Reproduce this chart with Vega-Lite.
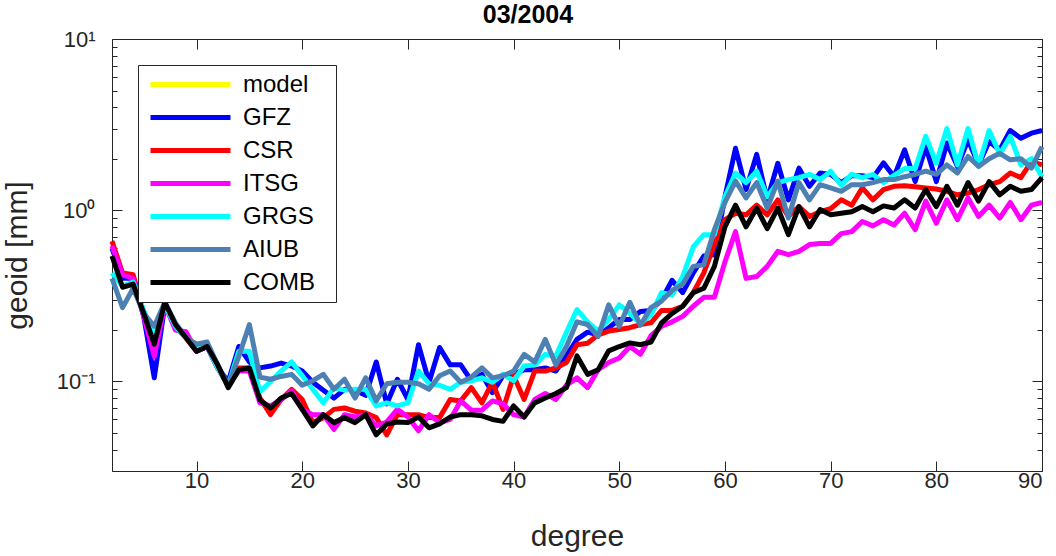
{
"$schema":"https://vega.github.io/schema/vega-lite/v6.json",
"width":930,"height":432,
"autosize":{"type":"none"},
"padding":{"left":112,"top":39,"right":14,"bottom":85},
"background":"white",
"title":{"text":"03/2004","fontSize":25,"fontWeight":"bold","font":"Liberation Sans","color":"#000000","offset":0,"dx":-49},
"config":{"view":{"stroke":null},"font":"Liberation Sans",
 "axis":{"domainColor":"#262626","tickColor":"#262626","labelColor":"#262626","titleColor":"#262626","grid":false,"labelFont":"Liberation Sans","titleFont":"Liberation Sans","labelFontSize":22,"titleFontSize":30,"titleFontWeight":"normal","domainWidth":1,"tickWidth":1}},
"data":{"values":[
{"d":2,"s":"GFZ","v":0.6},{"d":3,"s":"GFZ","v":0.4},{"d":4,"s":"GFZ","v":0.4},{"d":5,"s":"GFZ","v":0.24},{"d":6,"s":"GFZ","v":0.105},{"d":7,"s":"GFZ","v":0.28},{"d":8,"s":"GFZ","v":0.21},{"d":9,"s":"GFZ","v":0.18},{"d":10,"s":"GFZ","v":0.15},{"d":11,"s":"GFZ","v":0.16},
{"d":12,"s":"GFZ","v":0.12},{"d":13,"s":"GFZ","v":0.1},{"d":14,"s":"GFZ","v":0.16},{"d":15,"s":"GFZ","v":0.13},{"d":16,"s":"GFZ","v":0.12},{"d":17,"s":"GFZ","v":0.123},{"d":18,"s":"GFZ","v":0.128},{"d":19,"s":"GFZ","v":0.123},{"d":20,"s":"GFZ","v":0.115},{"d":21,"s":"GFZ","v":0.099},
{"d":22,"s":"GFZ","v":0.089},{"d":23,"s":"GFZ","v":0.08},{"d":24,"s":"GFZ","v":0.09},{"d":25,"s":"GFZ","v":0.089},{"d":26,"s":"GFZ","v":0.083},{"d":27,"s":"GFZ","v":0.13},{"d":28,"s":"GFZ","v":0.074},{"d":29,"s":"GFZ","v":0.103},{"d":30,"s":"GFZ","v":0.0785},{"d":31,"s":"GFZ","v":0.164},
{"d":32,"s":"GFZ","v":0.099},{"d":33,"s":"GFZ","v":0.158},{"d":34,"s":"GFZ","v":0.125},{"d":35,"s":"GFZ","v":0.125},{"d":36,"s":"GFZ","v":0.101},{"d":37,"s":"GFZ","v":0.11},{"d":38,"s":"GFZ","v":0.086},{"d":39,"s":"GFZ","v":0.108},{"d":40,"s":"GFZ","v":0.11},{"d":41,"s":"GFZ","v":0.117},
{"d":42,"s":"GFZ","v":0.117},{"d":43,"s":"GFZ","v":0.12},{"d":44,"s":"GFZ","v":0.115},{"d":45,"s":"GFZ","v":0.141},{"d":46,"s":"GFZ","v":0.176},{"d":47,"s":"GFZ","v":0.194},{"d":48,"s":"GFZ","v":0.187},{"d":49,"s":"GFZ","v":0.206},{"d":50,"s":"GFZ","v":0.23},{"d":51,"s":"GFZ","v":0.23},
{"d":52,"s":"GFZ","v":0.256},{"d":53,"s":"GFZ","v":0.26},{"d":54,"s":"GFZ","v":0.3},{"d":55,"s":"GFZ","v":0.39},{"d":56,"s":"GFZ","v":0.33},{"d":57,"s":"GFZ","v":0.43},{"d":58,"s":"GFZ","v":0.54},{"d":59,"s":"GFZ","v":0.55},{"d":60,"s":"GFZ","v":1.2},{"d":61,"s":"GFZ","v":2.3},
{"d":62,"s":"GFZ","v":1.32},{"d":63,"s":"GFZ","v":2.12},{"d":64,"s":"GFZ","v":1.15},{"d":65,"s":"GFZ","v":1.88},{"d":66,"s":"GFZ","v":1.15},{"d":67,"s":"GFZ","v":1.76},{"d":68,"s":"GFZ","v":1.38},{"d":69,"s":"GFZ","v":1.65},{"d":70,"s":"GFZ","v":1.62},{"d":71,"s":"GFZ","v":1.45},
{"d":72,"s":"GFZ","v":1.59},{"d":73,"s":"GFZ","v":1.59},{"d":74,"s":"GFZ","v":1.55},{"d":75,"s":"GFZ","v":1.89},{"d":76,"s":"GFZ","v":1.57},{"d":77,"s":"GFZ","v":2.25},{"d":78,"s":"GFZ","v":1.47},{"d":79,"s":"GFZ","v":2.35},{"d":80,"s":"GFZ","v":1.47},{"d":81,"s":"GFZ","v":2.47},
{"d":82,"s":"GFZ","v":1.8},{"d":83,"s":"GFZ","v":2.58},{"d":84,"s":"GFZ","v":1.84},{"d":85,"s":"GFZ","v":2.52},{"d":86,"s":"GFZ","v":2.25},{"d":87,"s":"GFZ","v":2.92},{"d":88,"s":"GFZ","v":2.63},{"d":89,"s":"GFZ","v":2.82},{"d":90,"s":"GFZ","v":2.92},
{"d":2,"s":"CSR","v":0.66},{"d":3,"s":"CSR","v":0.43},{"d":4,"s":"CSR","v":0.42},{"d":5,"s":"CSR","v":0.25},{"d":6,"s":"CSR","v":0.15},{"d":7,"s":"CSR","v":0.28},{"d":8,"s":"CSR","v":0.21},{"d":9,"s":"CSR","v":0.18},{"d":10,"s":"CSR","v":0.15},{"d":11,"s":"CSR","v":0.16},
{"d":12,"s":"CSR","v":0.12},{"d":13,"s":"CSR","v":0.095},{"d":14,"s":"CSR","v":0.12},{"d":15,"s":"CSR","v":0.12},{"d":16,"s":"CSR","v":0.08},{"d":17,"s":"CSR","v":0.064},{"d":18,"s":"CSR","v":0.0785},{"d":19,"s":"CSR","v":0.09},{"d":20,"s":"CSR","v":0.0785},{"d":21,"s":"CSR","v":0.0575},
{"d":22,"s":"CSR","v":0.0615},{"d":23,"s":"CSR","v":0.0687},{"d":24,"s":"CSR","v":0.07},{"d":25,"s":"CSR","v":0.067},{"d":26,"s":"CSR","v":0.0655},{"d":27,"s":"CSR","v":0.0615},{"d":28,"s":"CSR","v":0.0488},{"d":29,"s":"CSR","v":0.064},{"d":30,"s":"CSR","v":0.064},{"d":31,"s":"CSR","v":0.064},
{"d":32,"s":"CSR","v":0.0615},{"d":33,"s":"CSR","v":0.0615},{"d":34,"s":"CSR","v":0.0785},{"d":35,"s":"CSR","v":0.077},{"d":36,"s":"CSR","v":0.092},{"d":37,"s":"CSR","v":0.075},{"d":38,"s":"CSR","v":0.099},{"d":39,"s":"CSR","v":0.0687},{"d":40,"s":"CSR","v":0.108},{"d":41,"s":"CSR","v":0.0785},
{"d":42,"s":"CSR","v":0.115},{"d":43,"s":"CSR","v":0.115},{"d":44,"s":"CSR","v":0.12},{"d":45,"s":"CSR","v":0.129},{"d":46,"s":"CSR","v":0.164},{"d":47,"s":"CSR","v":0.167},{"d":48,"s":"CSR","v":0.187},{"d":49,"s":"CSR","v":0.197},{"d":50,"s":"CSR","v":0.201},{"d":51,"s":"CSR","v":0.206},
{"d":52,"s":"CSR","v":0.215},{"d":53,"s":"CSR","v":0.22},{"d":54,"s":"CSR","v":0.26},{"d":55,"s":"CSR","v":0.26},{"d":56,"s":"CSR","v":0.275},{"d":57,"s":"CSR","v":0.33},{"d":58,"s":"CSR","v":0.43},{"d":59,"s":"CSR","v":0.63},{"d":60,"s":"CSR","v":0.88},{"d":61,"s":"CSR","v":0.96},
{"d":62,"s":"CSR","v":0.94},{"d":63,"s":"CSR","v":1.07},{"d":64,"s":"CSR","v":0.94},{"d":65,"s":"CSR","v":1.15},{"d":66,"s":"CSR","v":0.92},{"d":67,"s":"CSR","v":1.05},{"d":68,"s":"CSR","v":0.92},{"d":69,"s":"CSR","v":0.98},{"d":70,"s":"CSR","v":1.02},{"d":71,"s":"CSR","v":1.15},
{"d":72,"s":"CSR","v":1.07},{"d":73,"s":"CSR","v":1.35},{"d":74,"s":"CSR","v":1.15},{"d":75,"s":"CSR","v":1.32},{"d":76,"s":"CSR","v":1.38},{"d":77,"s":"CSR","v":1.39},{"d":78,"s":"CSR","v":1.37},{"d":79,"s":"CSR","v":1.35},{"d":80,"s":"CSR","v":1.33},{"d":81,"s":"CSR","v":1.29},
{"d":82,"s":"CSR","v":1.23},{"d":83,"s":"CSR","v":1.26},{"d":84,"s":"CSR","v":1.32},{"d":85,"s":"CSR","v":1.41},{"d":86,"s":"CSR","v":1.47},{"d":87,"s":"CSR","v":1.65},{"d":88,"s":"CSR","v":1.55},{"d":89,"s":"CSR","v":1.92},{"d":90,"s":"CSR","v":1.84},
{"d":2,"s":"ITSG","v":0.62},{"d":3,"s":"ITSG","v":0.42},{"d":4,"s":"ITSG","v":0.4},{"d":5,"s":"ITSG","v":0.24},{"d":6,"s":"ITSG","v":0.14},{"d":7,"s":"ITSG","v":0.28},{"d":8,"s":"ITSG","v":0.2},{"d":9,"s":"ITSG","v":0.195},{"d":10,"s":"ITSG","v":0.15},{"d":11,"s":"ITSG","v":0.16},
{"d":12,"s":"ITSG","v":0.12},{"d":13,"s":"ITSG","v":0.095},{"d":14,"s":"ITSG","v":0.115},{"d":15,"s":"ITSG","v":0.115},{"d":16,"s":"ITSG","v":0.075},{"d":17,"s":"ITSG","v":0.072},{"d":18,"s":"ITSG","v":0.078},{"d":19,"s":"ITSG","v":0.088},{"d":20,"s":"ITSG","v":0.0687},{"d":21,"s":"ITSG","v":0.064},
{"d":22,"s":"ITSG","v":0.064},{"d":23,"s":"ITSG","v":0.0525},{"d":24,"s":"ITSG","v":0.064},{"d":25,"s":"ITSG","v":0.062},{"d":26,"s":"ITSG","v":0.064},{"d":27,"s":"ITSG","v":0.055},{"d":28,"s":"ITSG","v":0.058},{"d":29,"s":"ITSG","v":0.0687},{"d":30,"s":"ITSG","v":0.062},{"d":31,"s":"ITSG","v":0.0515},
{"d":32,"s":"ITSG","v":0.064},{"d":33,"s":"ITSG","v":0.0575},{"d":34,"s":"ITSG","v":0.06},{"d":35,"s":"ITSG","v":0.077},{"d":36,"s":"ITSG","v":0.068},{"d":37,"s":"ITSG","v":0.068},{"d":38,"s":"ITSG","v":0.077},{"d":39,"s":"ITSG","v":0.074},{"d":40,"s":"ITSG","v":0.064},{"d":41,"s":"ITSG","v":0.062},
{"d":42,"s":"ITSG","v":0.0785},{"d":43,"s":"ITSG","v":0.085},{"d":44,"s":"ITSG","v":0.0785},{"d":45,"s":"ITSG","v":0.095},{"d":46,"s":"ITSG","v":0.105},{"d":47,"s":"ITSG","v":0.092},{"d":48,"s":"ITSG","v":0.117},{"d":49,"s":"ITSG","v":0.129},{"d":50,"s":"ITSG","v":0.137},{"d":51,"s":"ITSG","v":0.16},
{"d":52,"s":"ITSG","v":0.144},{"d":53,"s":"ITSG","v":0.185},{"d":54,"s":"ITSG","v":0.21},{"d":55,"s":"ITSG","v":0.223},{"d":56,"s":"ITSG","v":0.24},{"d":57,"s":"ITSG","v":0.275},{"d":58,"s":"ITSG","v":0.31},{"d":59,"s":"ITSG","v":0.31},{"d":60,"s":"ITSG","v":0.5},{"d":61,"s":"ITSG","v":0.75},
{"d":62,"s":"ITSG","v":0.4},{"d":63,"s":"ITSG","v":0.41},{"d":64,"s":"ITSG","v":0.47},{"d":65,"s":"ITSG","v":0.575},{"d":66,"s":"ITSG","v":0.55},{"d":67,"s":"ITSG","v":0.575},{"d":68,"s":"ITSG","v":0.63},{"d":69,"s":"ITSG","v":0.64},{"d":70,"s":"ITSG","v":0.64},{"d":71,"s":"ITSG","v":0.73},
{"d":72,"s":"ITSG","v":0.75},{"d":73,"s":"ITSG","v":0.86},{"d":74,"s":"ITSG","v":0.81},{"d":75,"s":"ITSG","v":0.88},{"d":76,"s":"ITSG","v":0.82},{"d":77,"s":"ITSG","v":0.96},{"d":78,"s":"ITSG","v":0.77},{"d":79,"s":"ITSG","v":1.13},{"d":80,"s":"ITSG","v":0.84},{"d":81,"s":"ITSG","v":1.15},
{"d":82,"s":"ITSG","v":0.88},{"d":83,"s":"ITSG","v":1.18},{"d":84,"s":"ITSG","v":0.92},{"d":85,"s":"ITSG","v":1.07},{"d":86,"s":"ITSG","v":0.9},{"d":87,"s":"ITSG","v":1.11},{"d":88,"s":"ITSG","v":0.88},{"d":89,"s":"ITSG","v":1.07},{"d":90,"s":"ITSG","v":1.11},
{"d":2,"s":"GRGS","v":0.43},{"d":3,"s":"GRGS","v":0.36},{"d":4,"s":"GRGS","v":0.38},{"d":5,"s":"GRGS","v":0.26},{"d":6,"s":"GRGS","v":0.18},{"d":7,"s":"GRGS","v":0.28},{"d":8,"s":"GRGS","v":0.21},{"d":9,"s":"GRGS","v":0.18},{"d":10,"s":"GRGS","v":0.155},{"d":11,"s":"GRGS","v":0.16},
{"d":12,"s":"GRGS","v":0.12},{"d":13,"s":"GRGS","v":0.095},{"d":14,"s":"GRGS","v":0.15},{"d":15,"s":"GRGS","v":0.15},{"d":16,"s":"GRGS","v":0.087},{"d":17,"s":"GRGS","v":0.1},{"d":18,"s":"GRGS","v":0.115},{"d":19,"s":"GRGS","v":0.13},{"d":20,"s":"GRGS","v":0.108},{"d":21,"s":"GRGS","v":0.09},
{"d":22,"s":"GRGS","v":0.075},{"d":23,"s":"GRGS","v":0.092},{"d":24,"s":"GRGS","v":0.089},{"d":25,"s":"GRGS","v":0.09},{"d":26,"s":"GRGS","v":0.09},{"d":27,"s":"GRGS","v":0.072},{"d":28,"s":"GRGS","v":0.075},{"d":29,"s":"GRGS","v":0.072},{"d":30,"s":"GRGS","v":0.075},{"d":31,"s":"GRGS","v":0.115},
{"d":32,"s":"GRGS","v":0.097},{"d":33,"s":"GRGS","v":0.095},{"d":34,"s":"GRGS","v":0.09},{"d":35,"s":"GRGS","v":0.099},{"d":36,"s":"GRGS","v":0.101},{"d":37,"s":"GRGS","v":0.105},{"d":38,"s":"GRGS","v":0.099},{"d":39,"s":"GRGS","v":0.11},{"d":40,"s":"GRGS","v":0.101},{"d":41,"s":"GRGS","v":0.123},
{"d":42,"s":"GRGS","v":0.125},{"d":43,"s":"GRGS","v":0.144},{"d":44,"s":"GRGS","v":0.141},{"d":45,"s":"GRGS","v":0.194},{"d":46,"s":"GRGS","v":0.263},{"d":47,"s":"GRGS","v":0.223},{"d":48,"s":"GRGS","v":0.197},{"d":49,"s":"GRGS","v":0.23},{"d":50,"s":"GRGS","v":0.28},{"d":51,"s":"GRGS","v":0.25},
{"d":52,"s":"GRGS","v":0.218},{"d":53,"s":"GRGS","v":0.245},{"d":54,"s":"GRGS","v":0.33},{"d":55,"s":"GRGS","v":0.32},{"d":56,"s":"GRGS","v":0.41},{"d":57,"s":"GRGS","v":0.61},{"d":58,"s":"GRGS","v":0.72},{"d":59,"s":"GRGS","v":0.72},{"d":60,"s":"GRGS","v":1.2},{"d":61,"s":"GRGS","v":1.65},
{"d":62,"s":"GRGS","v":1.45},{"d":63,"s":"GRGS","v":1.69},{"d":64,"s":"GRGS","v":1.2},{"d":65,"s":"GRGS","v":1.45},{"d":66,"s":"GRGS","v":1.51},{"d":67,"s":"GRGS","v":1.55},{"d":68,"s":"GRGS","v":1.62},{"d":69,"s":"GRGS","v":1.51},{"d":70,"s":"GRGS","v":1.69},{"d":71,"s":"GRGS","v":1.4},
{"d":72,"s":"GRGS","v":1.62},{"d":73,"s":"GRGS","v":1.55},{"d":74,"s":"GRGS","v":1.62},{"d":75,"s":"GRGS","v":1.45},{"d":76,"s":"GRGS","v":1.6},{"d":77,"s":"GRGS","v":1.75},{"d":78,"s":"GRGS","v":1.75},{"d":79,"s":"GRGS","v":2.7},{"d":80,"s":"GRGS","v":1.88},{"d":81,"s":"GRGS","v":3.0},
{"d":82,"s":"GRGS","v":1.84},{"d":83,"s":"GRGS","v":3.0},{"d":84,"s":"GRGS","v":1.82},{"d":85,"s":"GRGS","v":2.92},{"d":86,"s":"GRGS","v":2.12},{"d":87,"s":"GRGS","v":2.7},{"d":88,"s":"GRGS","v":1.84},{"d":89,"s":"GRGS","v":2.0},{"d":90,"s":"GRGS","v":1.57},
{"d":2,"s":"AIUB","v":0.4},{"d":3,"s":"AIUB","v":0.27},{"d":4,"s":"AIUB","v":0.35},{"d":5,"s":"AIUB","v":0.25},{"d":6,"s":"AIUB","v":0.21},{"d":7,"s":"AIUB","v":0.29},{"d":8,"s":"AIUB","v":0.22},{"d":9,"s":"AIUB","v":0.18},{"d":10,"s":"AIUB","v":0.165},{"d":11,"s":"AIUB","v":0.17},
{"d":12,"s":"AIUB","v":0.125},{"d":13,"s":"AIUB","v":0.095},{"d":14,"s":"AIUB","v":0.14},{"d":15,"s":"AIUB","v":0.215},{"d":16,"s":"AIUB","v":0.106},{"d":17,"s":"AIUB","v":0.103},{"d":18,"s":"AIUB","v":0.107},{"d":19,"s":"AIUB","v":0.11},{"d":20,"s":"AIUB","v":0.095},{"d":21,"s":"AIUB","v":0.101},
{"d":22,"s":"AIUB","v":0.11},{"d":23,"s":"AIUB","v":0.09},{"d":24,"s":"AIUB","v":0.103},{"d":25,"s":"AIUB","v":0.08},{"d":26,"s":"AIUB","v":0.105},{"d":27,"s":"AIUB","v":0.077},{"d":28,"s":"AIUB","v":0.097},{"d":29,"s":"AIUB","v":0.099},{"d":30,"s":"AIUB","v":0.099},{"d":31,"s":"AIUB","v":0.097},
{"d":32,"s":"AIUB","v":0.09},{"d":33,"s":"AIUB","v":0.108},{"d":34,"s":"AIUB","v":0.115},{"d":35,"s":"AIUB","v":0.099},{"d":36,"s":"AIUB","v":0.106},{"d":37,"s":"AIUB","v":0.12},{"d":38,"s":"AIUB","v":0.105},{"d":39,"s":"AIUB","v":0.108},{"d":40,"s":"AIUB","v":0.115},{"d":41,"s":"AIUB","v":0.144},
{"d":42,"s":"AIUB","v":0.13},{"d":43,"s":"AIUB","v":0.176},{"d":44,"s":"AIUB","v":0.125},{"d":45,"s":"AIUB","v":0.16},{"d":46,"s":"AIUB","v":0.223},{"d":47,"s":"AIUB","v":0.215},{"d":48,"s":"AIUB","v":0.183},{"d":49,"s":"AIUB","v":0.28},{"d":50,"s":"AIUB","v":0.21},{"d":51,"s":"AIUB","v":0.29},
{"d":52,"s":"AIUB","v":0.213},{"d":53,"s":"AIUB","v":0.27},{"d":54,"s":"AIUB","v":0.295},{"d":55,"s":"AIUB","v":0.34},{"d":56,"s":"AIUB","v":0.37},{"d":57,"s":"AIUB","v":0.47},{"d":58,"s":"AIUB","v":0.48},{"d":59,"s":"AIUB","v":0.77},{"d":60,"s":"AIUB","v":1.11},{"d":61,"s":"AIUB","v":1.48},
{"d":62,"s":"AIUB","v":1.18},{"d":63,"s":"AIUB","v":1.45},{"d":64,"s":"AIUB","v":1.03},{"d":65,"s":"AIUB","v":1.48},{"d":66,"s":"AIUB","v":0.9},{"d":67,"s":"AIUB","v":1.45},{"d":68,"s":"AIUB","v":1.15},{"d":69,"s":"AIUB","v":1.41},{"d":70,"s":"AIUB","v":1.35},{"d":71,"s":"AIUB","v":1.29},
{"d":72,"s":"AIUB","v":1.41},{"d":73,"s":"AIUB","v":1.41},{"d":74,"s":"AIUB","v":1.45},{"d":75,"s":"AIUB","v":1.51},{"d":76,"s":"AIUB","v":1.51},{"d":77,"s":"AIUB","v":1.57},{"d":78,"s":"AIUB","v":1.62},{"d":79,"s":"AIUB","v":1.69},{"d":80,"s":"AIUB","v":1.62},{"d":81,"s":"AIUB","v":1.84},
{"d":82,"s":"AIUB","v":1.65},{"d":83,"s":"AIUB","v":2.06},{"d":84,"s":"AIUB","v":1.8},{"d":85,"s":"AIUB","v":2.0},{"d":86,"s":"AIUB","v":2.15},{"d":87,"s":"AIUB","v":1.97},{"d":88,"s":"AIUB","v":2.0},{"d":89,"s":"AIUB","v":1.76},{"d":90,"s":"AIUB","v":2.35},
{"d":2,"s":"COMB","v":0.54},{"d":3,"s":"COMB","v":0.355},{"d":4,"s":"COMB","v":0.37},{"d":5,"s":"COMB","v":0.25},{"d":6,"s":"COMB","v":0.165},{"d":7,"s":"COMB","v":0.29},{"d":8,"s":"COMB","v":0.215},{"d":9,"s":"COMB","v":0.18},{"d":10,"s":"COMB","v":0.15},{"d":11,"s":"COMB","v":0.16},
{"d":12,"s":"COMB","v":0.125},{"d":13,"s":"COMB","v":0.092},{"d":14,"s":"COMB","v":0.117},{"d":15,"s":"COMB","v":0.12},{"d":16,"s":"COMB","v":0.078},{"d":17,"s":"COMB","v":0.07},{"d":18,"s":"COMB","v":0.08},{"d":19,"s":"COMB","v":0.085},{"d":20,"s":"COMB","v":0.0687},{"d":21,"s":"COMB","v":0.055},
{"d":22,"s":"COMB","v":0.064},{"d":23,"s":"COMB","v":0.0575},{"d":24,"s":"COMB","v":0.0615},{"d":25,"s":"COMB","v":0.0575},{"d":26,"s":"COMB","v":0.064},{"d":27,"s":"COMB","v":0.0488},{"d":28,"s":"COMB","v":0.0565},{"d":29,"s":"COMB","v":0.058},{"d":30,"s":"COMB","v":0.0575},{"d":31,"s":"COMB","v":0.062},
{"d":32,"s":"COMB","v":0.0536},{"d":33,"s":"COMB","v":0.0565},{"d":34,"s":"COMB","v":0.062},{"d":35,"s":"COMB","v":0.064},{"d":36,"s":"COMB","v":0.064},{"d":37,"s":"COMB","v":0.063},{"d":38,"s":"COMB","v":0.06},{"d":39,"s":"COMB","v":0.0585},{"d":40,"s":"COMB","v":0.072},{"d":41,"s":"COMB","v":0.062},
{"d":42,"s":"COMB","v":0.075},{"d":43,"s":"COMB","v":0.08},{"d":44,"s":"COMB","v":0.085},{"d":45,"s":"COMB","v":0.092},{"d":46,"s":"COMB","v":0.141},{"d":47,"s":"COMB","v":0.11},{"d":48,"s":"COMB","v":0.117},{"d":49,"s":"COMB","v":0.151},{"d":50,"s":"COMB","v":0.16},{"d":51,"s":"COMB","v":0.168},
{"d":52,"s":"COMB","v":0.164},{"d":53,"s":"COMB","v":0.17},{"d":54,"s":"COMB","v":0.22},{"d":55,"s":"COMB","v":0.25},{"d":56,"s":"COMB","v":0.275},{"d":57,"s":"COMB","v":0.33},{"d":58,"s":"COMB","v":0.35},{"d":59,"s":"COMB","v":0.47},{"d":60,"s":"COMB","v":0.8},{"d":61,"s":"COMB","v":1.07},
{"d":62,"s":"COMB","v":0.8},{"d":63,"s":"COMB","v":1.03},{"d":64,"s":"COMB","v":0.78},{"d":65,"s":"COMB","v":1.03},{"d":66,"s":"COMB","v":0.72},{"d":67,"s":"COMB","v":1.05},{"d":68,"s":"COMB","v":0.8},{"d":69,"s":"COMB","v":1.01},{"d":70,"s":"COMB","v":0.94},{"d":71,"s":"COMB","v":0.96},
{"d":72,"s":"COMB","v":0.98},{"d":73,"s":"COMB","v":1.05},{"d":74,"s":"COMB","v":0.98},{"d":75,"s":"COMB","v":1.06},{"d":76,"s":"COMB","v":1.03},{"d":77,"s":"COMB","v":1.15},{"d":78,"s":"COMB","v":1.03},{"d":79,"s":"COMB","v":1.32},{"d":80,"s":"COMB","v":1.05},{"d":81,"s":"COMB","v":1.38},
{"d":82,"s":"COMB","v":1.07},{"d":83,"s":"COMB","v":1.45},{"d":84,"s":"COMB","v":1.13},{"d":85,"s":"COMB","v":1.47},{"d":86,"s":"COMB","v":1.23},{"d":87,"s":"COMB","v":1.38},{"d":88,"s":"COMB","v":1.29},{"d":89,"s":"COMB","v":1.32},{"d":90,"s":"COMB","v":1.55}
]},
"layer":[
 {"mark":{"type":"line","strokeWidth":5,"strokeJoin":"round"},
  "encoding":{
   "x":{"field":"d","type":"quantitative","scale":{"domain":[2,90],"nice":false,"zero":false},
        "axis":{"orient":"bottom","values":[10,20,30,40,50,60,70,80,90],"tickSize":-10,"labelPadding":9,"title":"degree","titlePadding":30}},
   "y":{"field":"v","type":"quantitative","scale":{"type":"log","domain":[0.03,10],"nice":false},
        "axis":{"orient":"left","values":[0.03,0.04,0.05,0.06,0.07,0.08,0.09,0.1,0.2,0.3,0.4,0.5,0.6,0.7,0.8,0.9,1,2,3,4,5,6,7,8,9,10],
                "labelExpr":"datum.value==10?'10¹':datum.value==1?'10⁰':datum.value==0.1?'10⁻¹':''",
                "tickSize":{"condition":{"test":"datum.value==10||datum.value==1||datum.value==0.1","value":-10},"value":-5},
                "labelPadding":27,"labelBaseline":"middle","title":"geoid [mm]","titlePadding":24}},
   "color":{"field":"s","type":"nominal",
     "scale":{"domain":["model","GFZ","CSR","ITSG","GRGS","AIUB","COMB"],"range":["#ffff00","#0000ff","#ff0000","#ff00ff","#00ffff","#4d80b3","#000000"]},
     "legend":{"orient":"none","legendX":26,"legendY":26,"title":null,"symbolType":"stroke","symbolSize":6400,"symbolStrokeWidth":5,"clipHeight":33,"rowPadding":0,"labelFontSize":24,"labelFont":"Liberation Sans","labelColor":"#000000","labelOffset":10,"padding":3,"symbolOffset":7,"strokeColor":"#262626","fillColor":"white","labelExpr":"datum.label + '\u2800'"}}
  }},
 {"mark":{"type":"line","opacity":0},
  "encoding":{
   "x":{"field":"d","type":"quantitative","scale":{"domain":[2,90],"nice":false,"zero":false},
        "axis":{"orient":"top","values":[10,20,30,40,50,60,70,80,90],"tickSize":-10,"labels":false,"title":null}},
   "y":{"field":"v","type":"quantitative","scale":{"type":"log","domain":[0.03,10],"nice":false},
        "axis":{"orient":"right","values":[0.03,0.04,0.05,0.06,0.07,0.08,0.09,0.1,0.2,0.3,0.4,0.5,0.6,0.7,0.8,0.9,1,2,3,4,5,6,7,8,9,10],
                "tickSize":{"condition":{"test":"datum.value==10||datum.value==1||datum.value==0.1","value":-10},"value":-5},"labels":false,"title":null}},
   "detail":{"field":"s","type":"nominal"}
  }}
],
"resolve":{"axis":{"x":"independent","y":"independent"}}
}
